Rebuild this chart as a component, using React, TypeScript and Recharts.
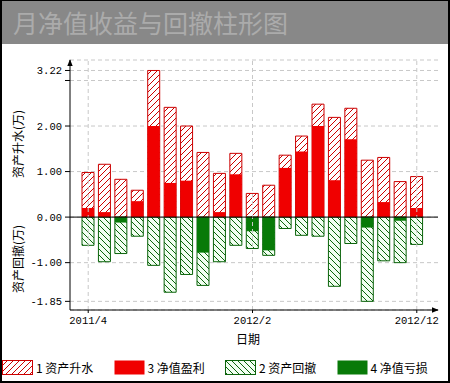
import { BarChart, Bar, XAxis, YAxis, CartesianGrid, ReferenceLine } from 'recharts';

const months = [
  '2011/4', '2011/5', '2011/6', '2011/7', '2011/8', '2011/9', '2011/10', '2011/11', '2011/12',
  '2012/1', '2012/2', '2012/3', '2012/4', '2012/5', '2012/6', '2012/7', '2012/8', '2012/9',
  '2012/10', '2012/11', '2012/12',
];

// 1 资产升水 (whole hatched red column)
const rise = [0.98, 1.16, 0.83, 0.59, 3.22, 2.41, 2.0, 1.42, 0.96, 1.4, 0.52, 0.7, 1.36, 1.78, 2.48, 2.19, 2.39, 1.25, 1.31, 0.78, 0.89];
// 3 净值盈利 (solid red part)
const profit = [0.2, 0.11, 0, 0.35, 2.0, 0.75, 0.8, 0, 0.11, 0.94, 0, 0, 1.08, 1.44, 2.0, 0.81, 1.71, 0, 0.33, 0, 0.2];
// 2 资产回撤 (whole hatched green column)
const drawdown = [-0.62, -0.98, -0.8, -0.42, -1.06, -1.65, -1.26, -1.5, -0.98, -0.62, -0.69, -0.84, -0.25, -0.4, -0.42, -1.52, -0.58, -1.85, -0.96, -1.0, -0.6];
// 4 净值亏损 (solid green part)
const loss = [0, 0, -0.12, 0, 0, 0, 0, -0.78, 0, 0, -0.31, -0.73, 0, 0, 0, 0, 0, -0.23, 0, -0.08, 0];

const yTicks = [-1.85, -1, 0, 1, 2, 3, 3.22];
const gridMonths = ['2011/4', '2012/2', '2012/12'];

const data = months.map((m, i) => ({
  month: m,
  rise: rise[i],
  drawdown: drawdown[i],
  profit: profit[i],
  loss: loss[i],
}));

const RED = '#f00000';
const RED_LINE = '#cc0000';
const GREEN = '#087a08';
const GREEN_LINE = '#0b640b';
const monoTick = { fill: '#000', fontSize: 10.5, fontFamily: '"Liberation Mono", monospace' };
const cjk = '"Noto Sans CJK SC", sans-serif';

function Hatch({ id, dir, color, bg }: { id: string; dir: 'up' | 'down'; color: string; bg: string }) {
  const d = dir === 'up' ? 'M0,6 L6,0 M-1,1 L1,-1 M5,7 L7,5' : 'M0,0 L6,6 M-1,5 L1,7 M5,-1 L7,1';
  return (
    <pattern id={id} width="6" height="6" patternUnits="userSpaceOnUse">
      <rect width="6" height="6" fill={bg} />
      <path d={d} stroke={color} strokeWidth={1} />
    </pattern>
  );
}

const legendItems = [
  { label: '1 资产升水', kind: 'redHatch' },
  { label: '3 净值盈利', kind: 'red' },
  { label: '2 资产回撤', kind: 'greenHatch' },
  { label: '4 净值亏损', kind: 'green' },
];

function LegendIcon({ kind }: { kind: string }) {
  const id = 'lg-' + kind;
  let fill = RED;
  let stroke = 'none';
  if (kind === 'green') fill = GREEN;
  if (kind === 'redHatch') { fill = `url(#${id})`; stroke = RED_LINE; }
  if (kind === 'greenHatch') { fill = `url(#${id})`; stroke = GREEN_LINE; }
  return (
    <svg width={31} height={15} style={{ display: 'block' }}>
      <defs>
        {kind === 'redHatch' && <Hatch id={id} dir="up" color={RED_LINE} bg="#fff" />}
        {kind === 'greenHatch' && <Hatch id={id} dir="down" color={GREEN_LINE} bg="#f2fff2" />}
      </defs>
      <rect x={0.5} y={0.5} width={30} height={14} fill={fill} stroke={stroke} />
    </svg>
  );
}

function YTitle({ text, cy }: { text: string; cy: number }) {
  return (
    <div
      style={{
        position: 'absolute', left: 18 - 40, top: cy - 7, width: 80, height: 14, fontSize: 12,
        lineHeight: '14px', textAlign: 'center', color: '#000', transform: 'rotate(-90deg)',
        whiteSpace: 'nowrap',
      }}
    >
      {text}
    </div>
  );
}

export default function App() {
  return (
    <div style={{ position: 'absolute', left: 0, top: 0, width: 450, height: 383, background: '#fff', fontFamily: cjk }}>
      <div
        style={{
          position: 'absolute', left: 0, top: 0, width: 450, height: 44, background: '#888888',
          color: '#ababab', fontSize: 25, lineHeight: '44px', paddingLeft: 13, boxSizing: 'border-box',
        }}
      >
        月净值收益与回撤柱形图
      </div>

      <div style={{ position: 'absolute', left: 0, top: 0 }}>
        <BarChart
          width={450}
          height={383}
          data={data}
          stackOffset="sign"
          margin={{ top: 60, right: 12, bottom: 37, left: 0 }}
        >
          <defs>
            <Hatch id="redHatch" dir="up" color={RED_LINE} bg="#fff" />
            <Hatch id="greenHatch" dir="down" color={GREEN_LINE} bg="#f2fff2" />
            <marker id="arrow" viewBox="0 0 10 10" refX="9" refY="5" markerWidth="7" markerHeight="7" orient="auto-start-reverse">
              <path d="M0,1 L10,5 L0,9 z" fill="#000" />
            </marker>
          </defs>
          <CartesianGrid vertical={false} stroke="#c8c8c8" strokeDasharray="4 3" />
          <XAxis
            xAxisId="a"
            dataKey="month"
            interval={9}
            padding={{ left: 10, right: 13 }}
            height={36}
            tick={monoTick}
            tickSize={3}
            tickMargin={4}
            tickLine={{ stroke: '#000' }}
            axisLine={{ stroke: '#000', markerEnd: 'url(#arrow)' }}
            label={{ value: '日期', position: 'insideBottom', offset: 2, dx: -6, fill: '#000', fontSize: 12, fontFamily: cjk }}
          />
          <XAxis xAxisId="b" dataKey="month" hide padding={{ left: 10, right: 13 }} />
          <YAxis
            width={70}
            domain={[-2.04, 3.45]}
            ticks={yTicks}
            interval={0}
            tick={monoTick}
            tickSize={5}
            tickMargin={3}
            tickLine={{ stroke: '#000' }}
            axisLine={{ stroke: '#000', markerStart: 'url(#arrow)' }}
            tickFormatter={(v: number) => (v === 3 ? '' : v.toFixed(2))}
          />
          {gridMonths.map((m) => (
            <ReferenceLine key={m} xAxisId="a" x={m} stroke="#c8c8c8" strokeDasharray="4 3" />
          ))}
          <Bar xAxisId="a" stackId="h" dataKey="rise" barSize={12} fill="url(#redHatch)" stroke={RED_LINE} isAnimationActive={false} />
          <Bar xAxisId="a" stackId="h" dataKey="drawdown" barSize={12} fill="url(#greenHatch)" stroke={GREEN_LINE} isAnimationActive={false} />
          <Bar xAxisId="b" stackId="s" dataKey="profit" barSize={12} fill={RED} isAnimationActive={false} />
          <Bar xAxisId="b" stackId="s" dataKey="loss" barSize={12} fill={GREEN} isAnimationActive={false} />
          <ReferenceLine xAxisId="a" y={0} stroke="#000" />
        </BarChart>
      </div>

      <YTitle text="资产升水(万)" cy={144} />
      <YTitle text="资产回撤(万)" cy={259} />

      <div style={{ position: 'absolute', left: 2, top: 359, width: 446, height: 16, display: 'flex' }}>
        {legendItems.map((it) => (
          <div key={it.kind} style={{ width: 114, display: 'flex', alignItems: 'center', fontSize: 12, lineHeight: '15px' }}>
            <LegendIcon kind={it.kind} />
            <span style={{ marginLeft: 3, whiteSpace: 'pre' }}>{it.label}</span>
          </div>
        ))}
      </div>

      <div
        style={{
          position: 'absolute', left: 0, top: 0, width: 450, height: 383, boxSizing: 'border-box',
          borderTop: '1px solid #000', borderLeft: '2px solid #000', borderRight: '2px solid #000',
          borderBottom: '2px solid #000', pointerEvents: 'none',
        }}
      />
    </div>
  );
}
